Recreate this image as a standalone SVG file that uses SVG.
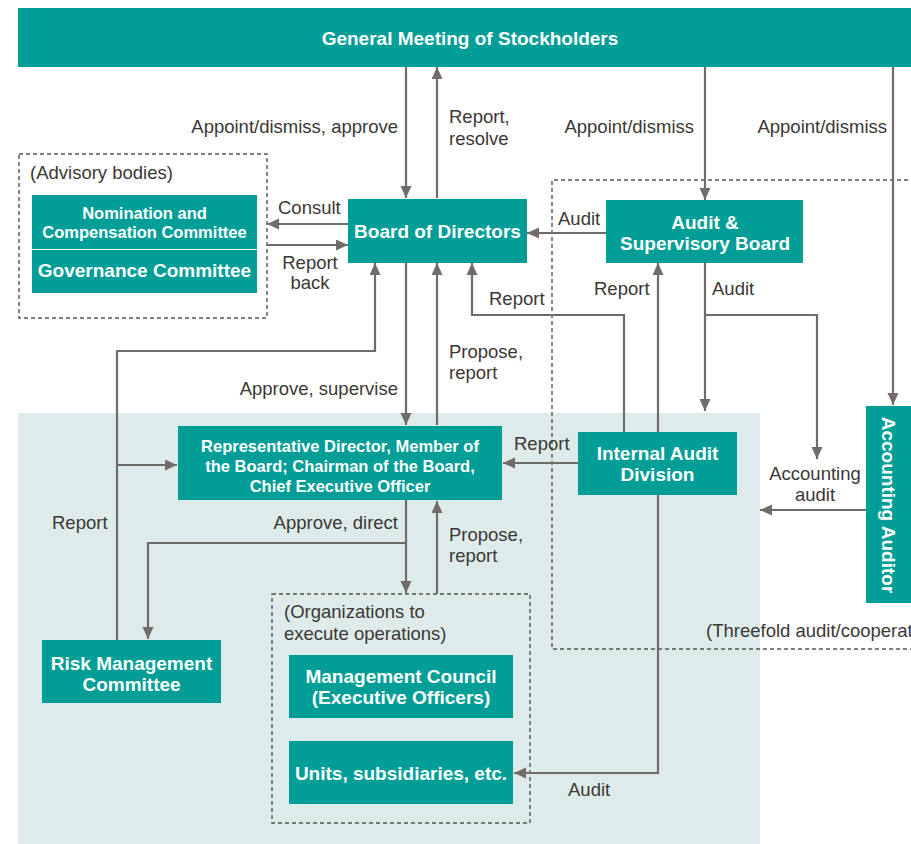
<svg xmlns="http://www.w3.org/2000/svg" width="911" height="844" viewBox="0 0 911 844">
<defs>
<style>
.box{fill:#009e97}
.bt{font-family:"Liberation Sans",Arial,sans-serif;font-weight:bold;font-size:19px;fill:#fff;text-anchor:middle}
.bs{font-size:16.5px}
.lb{font-family:"Liberation Sans",Arial,sans-serif;font-size:18.5px;fill:#3b3735}
.r{text-anchor:end}
.m{text-anchor:middle}
.dash{fill:none;stroke:#555;stroke-width:1.4;stroke-dasharray:4 3}
.cn{fill:none;stroke:#716c69;stroke-width:2.2;marker-end:url(#ah)}
</style>
<marker id="ah" markerUnits="userSpaceOnUse" markerWidth="13" markerHeight="12" refX="12" refY="5.5" orient="auto">
<path d="M0,0 L12,5.5 L0,11 z" fill="#716c69"/>
</marker>
</defs>
<rect x="0" y="0" width="911" height="844" fill="#fff"/>
<rect x="18" y="413" width="742" height="431" fill="#ddecea"/>
<g id="frames">
<rect class="dash" x="19" y="154" width="248" height="164"/>
<path class="dash" d="M915,180 H552 V649 H915"/>
<rect class="dash" x="272" y="594" width="258" height="229"/>
</g>
<g id="connectors">
<path class="cn" d="M406,67 V198"/>
<path class="cn" d="M437,198 V67"/>
<path class="cn" d="M705,67 V200"/>
<path class="cn" d="M893,67 V405"/>
<path class="cn" d="M348,224 H267"/>
<path class="cn" d="M267,245 H348"/>
<path class="cn" d="M606,233 H527"/>
<path class="cn" d="M406,263 V425"/>
<path class="cn" d="M437,425 V263"/>
<path class="cn" d="M117,640 V351 H375 V263"/>
<path class="cn" d="M117,465 H177"/>
<path class="cn" d="M624,432 V315 H472 V263"/>
<path class="cn" d="M658,432 V263"/>
<path class="cn" d="M658,495 V773 H514"/>
<path class="cn" d="M705,263 V411"/>
<path class="cn" d="M705,315 H817 V459"/>
<path class="cn" d="M866,510 H760"/>
<path class="cn" d="M578,463 H503"/>
<path class="cn" d="M406,500 V593"/>
<path class="cn" d="M406,543 H148 V639"/>
<path class="cn" d="M437,594 V501"/>
</g>
<g id="general-meeting">
<rect class="box" x="18" y="8" width="893" height="59"/>
<text class="bt" x="470" y="45">General Meeting of Stockholders</text>
</g>
<g id="nomination">
<rect class="box" x="32" y="195" width="225" height="54"/>
<text class="bt bs" x="144.5" y="219">Nomination and</text>
<text class="bt bs" x="144.5" y="238">Compensation Committee</text>
</g>
<g id="governance">
<rect class="box" x="32" y="250" width="225" height="43"/>
<text class="bt" x="144.5" y="277">Governance Committee</text>
</g>
<g id="board">
<rect class="box" x="348" y="199" width="179" height="64"/>
<text class="bt" x="437.5" y="238">Board of Directors</text>
</g>
<g id="audit-supervisory-board">
<rect class="box" x="606" y="200" width="197" height="63"/>
<text class="bt" x="705" y="229">Audit &amp;</text>
<text class="bt" x="705" y="250">Supervisory Board</text>
</g>
<g id="accounting-auditor">
<rect class="box" x="866" y="406" width="45" height="197"/>
<text class="bt" transform="translate(882,505) rotate(90)" x="0" y="0">Accounting Auditor</text>
</g>
<g id="ceo">
<rect class="box" x="178" y="426" width="324" height="74"/>
<text class="bt bs" x="340" y="452">Representative Director, Member of</text>
<text class="bt bs" x="340" y="472">the Board; Chairman of the Board,</text>
<text class="bt bs" x="340" y="492">Chief Executive Officer</text>
</g>
<g id="internal-audit">
<rect class="box" x="578" y="432" width="159" height="63"/>
<text class="bt" x="657.5" y="460">Internal Audit</text>
<text class="bt" x="657.5" y="481">Division</text>
</g>
<g id="risk-management">
<rect class="box" x="42" y="640" width="179" height="63"/>
<text class="bt" x="131.5" y="670">Risk Management</text>
<text class="bt" x="131.5" y="691">Committee</text>
</g>
<g id="management-council">
<rect class="box" x="289" y="655" width="224" height="63"/>
<text class="bt" x="401" y="683">Management Council</text>
<text class="bt" x="401" y="704">(Executive Officers)</text>
</g>
<g id="units">
<rect class="box" x="289" y="741" width="224" height="63"/>
<text class="bt" x="401" y="780">Units, subsidiaries, etc.</text>
</g>
<g id="labels">
<text class="lb r" x="398" y="133">Appoint/dismiss, approve</text>
<text class="lb" x="449" y="123">Report,</text>
<text class="lb" x="449" y="145">resolve</text>
<text class="lb r" x="694" y="133">Appoint/dismiss</text>
<text class="lb r" x="887" y="133">Appoint/dismiss</text>
<text class="lb" x="30" y="179">(Advisory bodies)</text>
<text class="lb" x="278" y="214">Consult</text>
<text class="lb m" x="310" y="269">Report</text>
<text class="lb m" x="310" y="289">back</text>
<text class="lb" x="558" y="225">Audit</text>
<text class="lb" x="489" y="305">Report</text>
<text class="lb" x="594" y="295">Report</text>
<text class="lb" x="712" y="295">Audit</text>
<text class="lb" x="449" y="358">Propose,</text>
<text class="lb" x="449" y="379">report</text>
<text class="lb r" x="398" y="395">Approve, supervise</text>
<text class="lb" x="514" y="450">Report</text>
<text class="lb m" x="815" y="480">Accounting</text>
<text class="lb m" x="815" y="501">audit</text>
<text class="lb" x="52" y="529">Report</text>
<text class="lb r" x="398" y="529">Approve, direct</text>
<text class="lb" x="449" y="541">Propose,</text>
<text class="lb" x="449" y="562">report</text>
<text class="lb" x="284" y="618">(Organizations to</text>
<text class="lb" x="284" y="640">execute operations)</text>
<text class="lb" x="706" y="637">(Threefold audit/cooperation)</text>
<text class="lb" x="568" y="796">Audit</text>
</g>
</svg>
